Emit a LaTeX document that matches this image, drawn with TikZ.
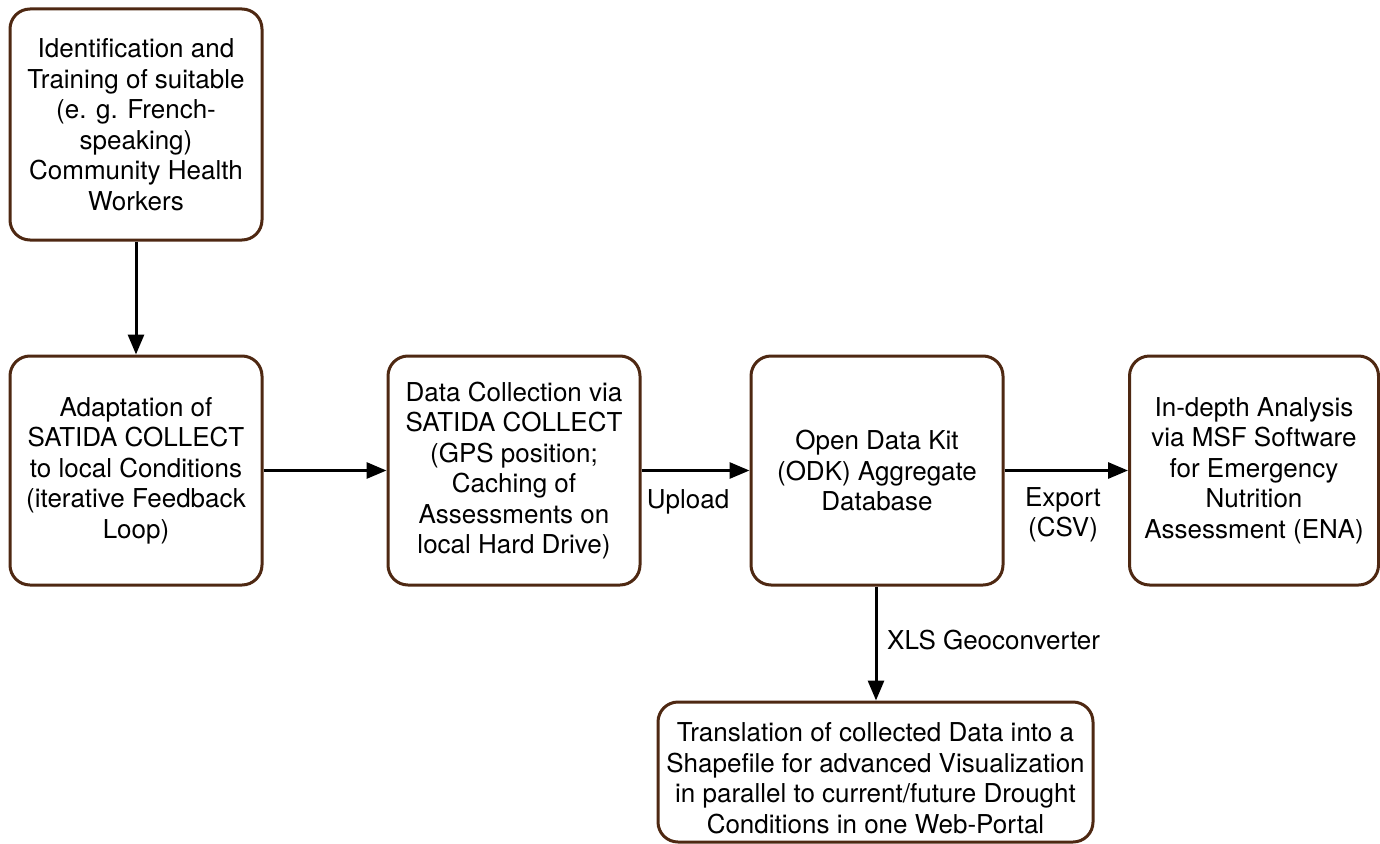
\documentclass[tikz,border=0pt]{standalone}
\usepackage{fontspec}
\setmainfont{TeX Gyre Heros}
\usetikzlibrary{arrows.meta}
\definecolor{boxbrown}{RGB}{78,40,18}
\begin{document}
\begin{tikzpicture}[x=1pt,y=-1pt,
  stepbox/.style={draw=boxbrown, line width=3pt, rounded corners=20pt, fill=white,
    align=center, inner sep=0pt, font=\fontsize{26}{30.5}\selectfont},
  flow/.style={line width=3pt, -{Triangle[length=20pt,width=16pt]}},
  lbl/.style={font=\fontsize{26}{30.5}\selectfont, inner sep=0pt, align=center}]
\path[use as bounding box] (0,0) rectangle (1380,843);
\node[stepbox, minimum width=252pt, minimum height=231pt] (b1) at (136,124.5)
  {Identification and\\Training of suitable\\(e. g. French-\\speaking)\\Community Health\\Workers};
\node[stepbox, minimum width=252pt, minimum height=229pt] (b2) at (136,470.5)
  {Adaptation of\\SATIDA COLLECT\\to local Conditions\\(iterative Feedback\\Loop)};
\node[stepbox, minimum width=252pt, minimum height=229pt] (b3) at (514,470.5)
  {Data Collection via\\SATIDA COLLECT\\(GPS position;\\Caching of\\Assessments on\\local Hard Drive)};
\node[stepbox, minimum width=252pt, minimum height=229pt] (b4) at (877,470.5)
  {Open Data Kit\\(ODK) Aggregate\\Database};
\node[stepbox, minimum width=249pt, minimum height=229pt] (b5) at (1254,470.5)
  {In-depth Analysis\\via MSF Software\\for Emergency\\Nutrition\\Assessment (ENA)};
\node[stepbox, minimum width=435pt, minimum height=140pt] (b6) at (875.5,772)
  {\rule{0pt}{31pt}Translation of collected Data into a\\Shapefile for advanced Visualization\\in parallel to current/future Drought\\Conditions in one Web-Portal};
\draw[flow] (b1) -- (b2);
\draw[flow] (b2) -- (b3);
\draw[flow] (b3) -- (b4);
\draw[flow] (b4) -- (b5);
\draw[flow] (b4.south -| 876,0) -- (b6.north -| 876,0);
\node[lbl] (up) at (688,502) {Upload};
\node[lbl] (ex) at (1063,515) {Export\\(CSV)};
\node[lbl, anchor=west] (xls) at (887,640) {XLS Geoconverter};
\end{tikzpicture}
\end{document}
